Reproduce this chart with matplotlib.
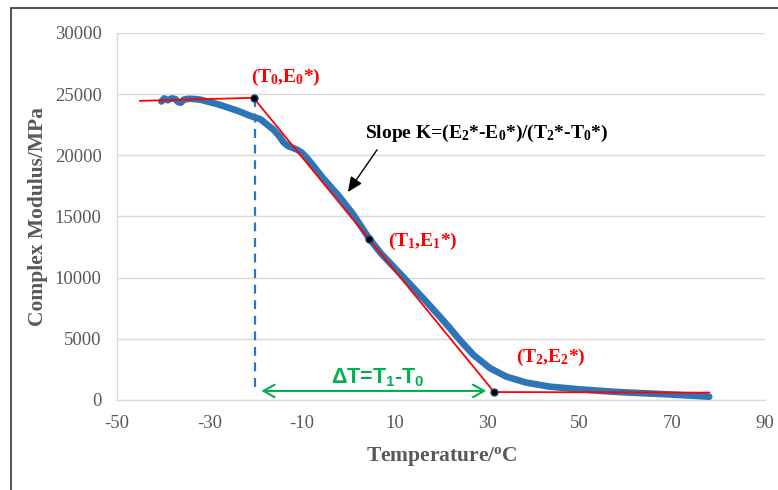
import matplotlib
matplotlib.use("Agg")
import matplotlib.pyplot as plt
from matplotlib.patches import Rectangle

plt.rcParams.update({
    "font.family": "Liberation Serif",
    "axes.unicode_minus": False,
    "mathtext.fontset": "custom",
    "mathtext.rm": "Liberation Serif",
    "mathtext.bf": "Liberation Serif:bold",
    "mathtext.sf": "Liberation Sans:bold",
    "mathtext.default": "bf",
})

# measured complex modulus vs temperature
temp_c = [-40.4, -39.8, -39.0, -38.2, -37.4, -36.8, -36.2, -35.6, -35.0, -34.2,
          -33.4, -32.0, -28.0, -24.0, -21.0, -19.0, -16.2, -15.0, -14.0, -13.0,
          -12.0, -11.0, -10.0, -9.0, -8.0, -5.4, -2.0, 1.0, 3.0, 4.5,
          7.0, 9.0, 12.5, 16.2, 19.8, 22.0, 24.1, 27.0, 30.6, 34.2,
          38.5, 43.5, 50.0, 57.0, 61.0, 68.0, 74.0, 78.0]
modulus = [24400, 24650, 24500, 24650, 24600, 24350, 24300, 24550, 24600, 24620,
           24600, 24550, 24150, 23650, 23200, 22950, 22100, 21600, 21050, 20750,
           20600, 20450, 20200, 19800, 19350, 18100, 16650, 15200, 14050, 13200,
           12000, 11200, 9800, 8300, 6800, 5850, 4900, 3700, 2600, 1900,
           1420, 1090, 870, 680, 600, 480, 360, 270]

# piecewise linear fit (glassy plateau, transition, rubbery plateau)
fit_t = [-45, -20.5, 31.5, 78]
fit_e = [24450, 24700, 650, 600]

# characteristic points T0, T1, T2
key_t = [-20.5, 4.5, 31.5]
key_e = [24700, 13150, 650]
key_labels = ["(T$_0$,E$_0$*)", "(T$_1$,E$_1$*)", "(T$_2$,E$_2$*)"]

x_ticks = [-50, -30, -10, 10, 30, 50, 70, 90]
y_ticks = [0, 5000, 10000, 15000, 20000, 25000, 30000]

gray = "#595959"
blue = "#2E75B6"
red = "#FF0000"
green = "#00B050"

fig = plt.figure(figsize=(7.78, 4.90), dpi=100)
ax = fig.add_axes([0.1504, 0.1837, 0.8326, 0.749])

ax.plot(temp_c, modulus, color=blue, lw=4.8, solid_capstyle="round",
        solid_joinstyle="round", zorder=3)
ax.plot(fit_t, fit_e, color=red, lw=1.3, zorder=4)
ax.plot(key_t, key_e, "o", color="black", markeredgecolor="#1f3f6f",
        markersize=5, zorder=5)

# dashed drop line from T0
ax.plot([-20.2, -20.2], [key_e[0], 800], color=blue, lw=1.6,
        dashes=(4, 3), zorder=2)

# delta T arrow
ax.annotate("", xy=(-18.8, 740), xytext=(29.8, 740),
            arrowprops=dict(arrowstyle="<->,head_length=0.8,head_width=0.45",
                            color=green, lw=1.5, shrinkA=0, shrinkB=0))
ax.text(6.3, 1900, "ΔT=T$_\\mathsf{1}$-T$_\\mathsf{0}$", color=green,
        fontfamily="Liberation Sans", fontweight="bold", fontsize=15.5,
        ha="center", va="center")

label_pos = [(-13.4, 26400), (16.0, 13000), (43.7, 3500)]
for (lx, ly), lab in zip(label_pos, key_labels):
    ax.text(lx, ly, lab, color=red, fontweight="bold", fontsize=14,
            ha="center", va="center")

ax.text(29.8, 21800, "Slope K=(E$_2$*-E$_0$*)/(T$_2$*-T$_0$*)", color="black",
        fontweight="bold", fontsize=14, ha="center", va="center")
ax.annotate("", xy=(-0.1, 17000), xytext=(6.2, 20450),
            arrowprops=dict(arrowstyle="-|>,head_length=0.9,head_width=0.4",
                            color="black", lw=1.0, shrinkA=0, shrinkB=0))

ax.set_xlim(-50, 90)
ax.set_ylim(0, 30000)
ax.set_xticks(x_ticks)
ax.set_yticks(y_ticks)
ax.tick_params(length=0, pad=11, labelsize=13.5, labelcolor=gray)
ax.grid(axis="y", color="#d9d9d9", lw=1)
ax.set_axisbelow(True)
for side in ["top", "right"]:
    ax.spines[side].set_visible(False)
for side in ["left", "bottom"]:
    ax.spines[side].set_color("#d9d9d9")
    ax.spines[side].set_linewidth(1)

ax.set_xlabel("Temperature/$^{o}$C", fontsize=15.5, fontweight="bold",
              color=gray)
ax.set_ylabel("Complex Modulus/MPa", fontsize=15.5, fontweight="bold",
              color=gray)
ax.xaxis.set_label_coords(0.502, -0.122)
ax.yaxis.set_label_coords(-0.106, 0.5)

# outer frame
fig.add_artist(Rectangle((0.0141, -0.05), 1.1, 0.9837 + 0.05,
                         transform=fig.transFigure, fill=False,
                         edgecolor="#333333", lw=1.2))

fig.savefig("out.png", dpi=100)
